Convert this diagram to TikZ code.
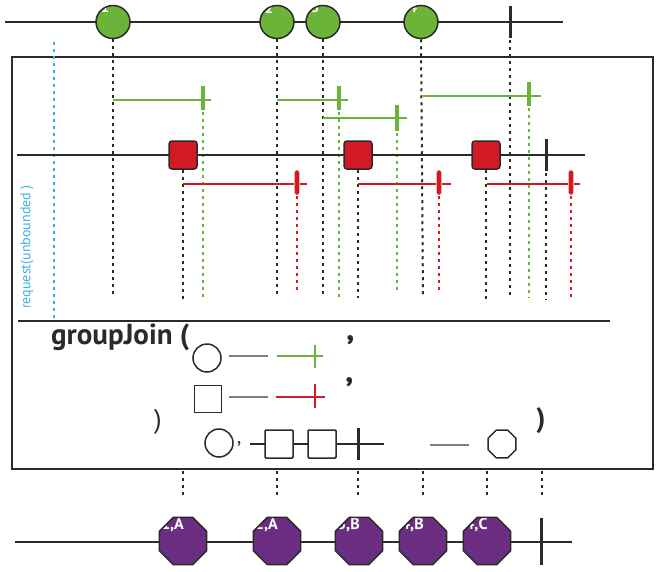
\documentclass[tikz,border=0pt]{standalone}
\usepackage{fontspec}
\setmainfont{PT Sans}
\usetikzlibrary{shapes.geometric}
\definecolor{ink}{RGB}{45,41,38}
\definecolor{marblegreen}{RGB}{106,180,58}
\definecolor{marblered}{RGB}{210,26,36}
\definecolor{marblepurple}{RGB}{106,45,130}
\definecolor{reqblue}{RGB}{60,175,225}
\definecolor{hintgray}{RGB}{128,128,128}
\begin{document}
\begin{tikzpicture}[x=1pt,y=-1pt,
	axis/.style={draw=ink,line width=2pt},
	endbar/.style={draw=ink,line width=3pt},
	dotline/.style={draw=ink,line width=2pt,dash pattern=on 3pt off 4pt},
	gdot/.style={draw=marblegreen,line width=2pt,dash pattern=on 3pt off 4pt},
	rdot/.style={draw=marblered,line width=2pt,dash pattern=on 3pt off 4pt},
	gwin/.style={draw=marblegreen,line width=2pt},
	gtick/.style={draw=marblegreen,line width=3.5pt},
	rwin/.style={draw=marblered,line width=2pt},
	rtick/.style={draw=marblered,line width=3.5pt,line cap=round,preaction={draw=marblered!35,line width=6pt}},
	mlabel/.style={text=white,font=\bfseries\fontsize{14}{15}\selectfont,inner sep=0pt},
	gmarble/.style={ellipse,draw=ink,line width=1.5pt,fill=marblegreen,minimum width=34pt,minimum height=33pt,inner sep=0pt,
		path picture={\node[mlabel] at ([shift={(9pt,-2.5pt)}]path picture bounding box.north west) {#1};}},
	rmarble/.style={rectangle,rounded corners=3pt,draw=ink,line width=1.5pt,fill=marblered,minimum size=28pt,inner sep=0pt,
		path picture={\node[mlabel] at ([shift={(2pt,3pt)}]path picture bounding box.north west) {#1};}},
	pmarble/.style={regular polygon,regular polygon sides=8,draw=ink,line width=1.5pt,fill=marblepurple,minimum size=51pt,inner sep=0pt,
		path picture={\node[mlabel,font=\bfseries\fontsize{16}{17}\selectfont] at ([shift={(13pt,-7.5pt)}]path picture bounding box.north west) {#1};}},
	hint/.style={draw=ink,line width=1.5pt,fill=white,inner sep=0pt},
	]
	\useasboundingbox (0,0) rectangle (659,571);
	
	% source of the left side
	\draw[axis] (5,22) -- (563,22);
	\node[gmarble=1] (t1) at (113,22) {};
	\node[gmarble=2] (t2) at (277,22) {};
	\node[gmarble=3] (t3) at (323,22) {};
	\node[gmarble=4] (t4) at (421,22) {};
	\draw[endbar] (510,6) -- (510,38);
	\draw[dotline] (t1.south) -- (113,298);
	\draw[dotline] (t2.south) -- (277,298);
	\draw[dotline] (t3.south) -- (323,298);
	\draw[dotline] (t4.south) -- (423,298);
	\draw[dotline] (510,40) -- (510,298);
	
	% operator box
	\draw[draw=ink,line width=2pt] (12,57) rectangle (653,469);
	\draw[draw=reqblue,line width=2pt,dash pattern=on 3pt off 4pt] (54,42) -- (54,318);
	\node[rotate=90,text=reqblue,font=\fontsize{14}{16}\selectfont] (req) at (27,247) {request(unbounded )};
	
	% windows of the left side
	\draw[gwin] (113,100) -- (211,100);
	\draw[gtick] (203,86) -- (203,110);
	\draw[gdot] (203,112) -- (203,298);
	\draw[gwin] (277,100) -- (348,100);
	\draw[gtick] (339,86) -- (339,110);
	\draw[gdot] (339,112) -- (339,298);
	\draw[gwin] (323,118) -- (407,118);
	\draw[gtick] (397,105) -- (397,131);
	\draw[gdot] (397,133) -- (397,293);
	\draw[gwin] (423,96) -- (541,96);
	\draw[gtick] (529,82) -- (529,106);
	\draw[gdot] (529,108) -- (529,298);
	
	% source of the right side
	\draw[axis] (17,155) -- (585,155);
	\node[rmarble=A] (r1) at (183,155) {};
	\node[rmarble=B] (r2) at (358,155) {};
	\node[rmarble=C] (r3) at (486,155) {};
	\draw[endbar] (546,139) -- (546,171);
	\draw[dotline] (r1.south) -- (183,300);
	\draw[dotline] (r2.south) -- (358,298);
	\draw[dotline] (r3.south) -- (486,300);
	\draw[dotline] (546,173) -- (546,300);
	
	% windows of the right side
	\draw[rwin] (183,184) -- (307,184);
	\draw[rtick] (297,172) -- (297,193);
	\draw[rdot] (297,196) -- (297,293);
	\draw[rwin] (358,184) -- (451,184);
	\draw[rtick] (439,172) -- (439,193);
	\draw[rdot] (439,196) -- (439,293);
	\draw[rwin] (487,184) -- (580,184);
	\draw[rtick] (571,172) -- (571,193);
	\draw[rdot] (571,196) -- (571,300);
	
	% signature
	\draw[axis] (18,321) -- (610,321);
	\node[anchor=base west,text=ink,font=\bfseries\fontsize{29}{32}\selectfont,inner sep=0pt] (op) at (51,344) {groupJoin (};
	\node[hint,circle,minimum size=28pt] (c1) at (207,358) {};
	\draw[draw=hintgray,line width=1.5pt] (229,356) -- (268,356);
	\draw[gwin,line width=1.5pt] (277,356) -- (323,356);
	\draw[draw=marblegreen,line width=2pt] (315,345) -- (315,368);
	\node[text=ink,font=\bfseries\fontsize{38}{40}\selectfont] (k1) at (351,349) {’};
	\node[hint,rectangle,minimum size=27pt] (s1) at (208,399) {};
	\draw[draw=hintgray,line width=1.5pt] (229,397) -- (268,397);
	\draw[rwin,line width=1.5pt] (276,397) -- (325,397);
	\draw[draw=marblered,line width=2pt] (315,384) -- (315,408);
	\node[text=ink,font=\bfseries\fontsize{38}{40}\selectfont] (k2) at (350,391) {’};
	\node[text=ink,font=\fontsize{27}{30}\selectfont] (p1) at (158,422) {)};
	\node[hint,circle,minimum size=28pt] (c2) at (219,443) {};
	\node[text=ink,font=\fontsize{20}{22}\selectfont] (k3) at (239,444) {,};
	\draw[draw=ink,line width=1.5pt] (250,444) -- (384,444);
	\node[hint,rectangle,rounded corners=1pt,minimum size=28pt] (s2) at (279,444) {};
	\node[hint,rectangle,rounded corners=1pt,minimum size=28pt] (s3) at (322,444) {};
	\draw[endbar] (358,428) -- (358,460);
	\draw[draw=hintgray,line width=1.5pt] (430,445) -- (469,445);
	\node[hint,regular polygon,regular polygon sides=8,minimum size=30pt] (o1) at (502,444) {};
	\node[text=ink,font=\bfseries\fontsize{28}{30}\selectfont] (p2) at (541,421) {)};
	
	% result
	\foreach \x in {183,277,358,423,487,542}
	\draw[dotline] (\x,471) -- (\x,497);
	\draw[axis] (15,542) -- (572,542);
	\node[pmarble={1,A}] (j1) at (183,541) {};
	\node[pmarble={2,A}] (j2) at (277,541) {};
	\node[pmarble={3,B}] (j3) at (359,541) {};
	\node[pmarble={4,B}] (j4) at (423,541) {};
	\node[pmarble={4,C}] (j5) at (487,541) {};
	\draw[endbar] (541,518) -- (541,565);
\end{tikzpicture}
\end{document}
